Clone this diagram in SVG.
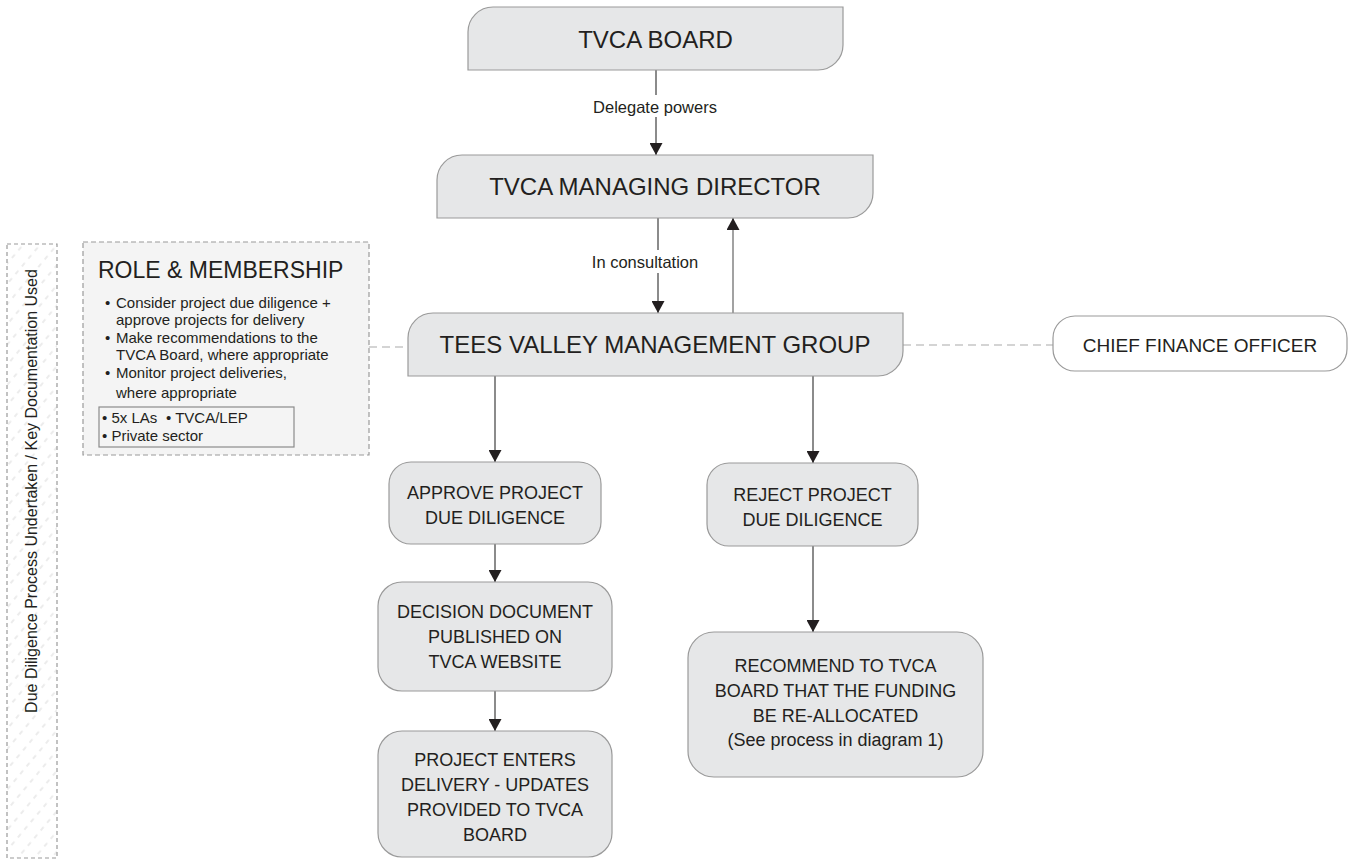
<svg xmlns="http://www.w3.org/2000/svg" width="1348" height="859" viewBox="0 0 1348 859">
<defs>
  <marker id="arr" viewBox="0 0 12 13" refX="12" refY="6.5" markerWidth="12" markerHeight="13" markerUnits="userSpaceOnUse" orient="auto">
    <path d="M0,0 L12,6.5 L0,13 z" fill="#231f20"/>
  </marker>
  <pattern id="hatch" width="10" height="13" patternUnits="userSpaceOnUse" patternTransform="rotate(-50)">
    <line x1="0" y1="6" x2="4.5" y2="6" stroke="#cfcfcf" stroke-width="0.8"/>
  </pattern>
  <style>
    .node { fill: #e6e7e8; stroke: #9a9a9a; stroke-width: 1.2; }
    .white { fill: #ffffff; stroke: #9a9a9a; stroke-width: 1.2; }
    .big { font-family: "Liberation Sans", Arial, sans-serif; font-size: 24px; fill: #231f20; text-anchor: middle; }
    .mid { font-family: "Liberation Sans", Arial, sans-serif; font-size: 18px; fill: #231f20; text-anchor: middle; }
    .lbl { font-family: "Liberation Sans", Arial, sans-serif; font-size: 16.5px; fill: #231f20; text-anchor: middle; }
    .bul { font-family: "Liberation Sans", Arial, sans-serif; font-size: 15px; fill: #231f20; }
    .side { font-family: "Liberation Sans", Arial, sans-serif; font-size: 16px; fill: #231f20; text-anchor: middle; }
    .line { stroke: #4d4d4d; stroke-width: 1.3; fill: none; }
    .dash { stroke: #aaaaaa; stroke-width: 1.2; stroke-dasharray: 8 5; fill: none; }
  </style>
</defs>

<!-- left side strip -->
<g id="side-strip">
  <rect x="7" y="244" width="50" height="614" fill="url(#hatch)" stroke="#9a9a9a" stroke-width="1.2" stroke-dasharray="4 3"/>
  <text class="side" transform="translate(37,491) rotate(-90)">Due Diligence Process Undertaken / Key Documentation Used</text>
</g>

<!-- connectors -->
<g id="connectors">
  <line class="line" x1="656" y1="70" x2="656" y2="95"/>
  <line class="line" x1="656" y1="117" x2="656" y2="155" marker-end="url(#arr)"/>
  <text class="lbl" x="655" y="113">Delegate powers</text>

  <line class="line" x1="658" y1="218" x2="658" y2="250"/>
  <line class="line" x1="658" y1="273" x2="658" y2="313" marker-end="url(#arr)"/>
  <text class="lbl" x="645" y="268">In consultation</text>

  <line class="line" x1="733" y1="313" x2="733" y2="218" marker-end="url(#arr)" style="stroke:#707070"/>

  <line class="line" x1="495" y1="376" x2="495" y2="462" marker-end="url(#arr)"/>
  <line class="line" x1="495" y1="544" x2="495" y2="582" marker-end="url(#arr)"/>
  <line class="line" x1="495" y1="691" x2="495" y2="731" marker-end="url(#arr)"/>
  <line class="line" x1="813" y1="376" x2="813" y2="463" marker-end="url(#arr)"/>
  <line class="line" x1="813" y1="546" x2="813" y2="632" marker-end="url(#arr)"/>

  <line class="dash" x1="369" y1="347" x2="408" y2="347"/>
  <line class="dash" x1="903" y1="345" x2="1053" y2="345"/>
</g>

<!-- role box -->
<g id="role-membership">
  <rect x="83" y="242" width="286" height="213" fill="#f4f4f4" stroke="#9a9a9a" stroke-width="1.2" stroke-dasharray="5 3"/>
  <text class="bul" x="98" y="278" style="font-size:23px">ROLE &amp; MEMBERSHIP</text>
  <text class="bul" x="105" y="308">•</text><text class="bul" x="116" y="308">Consider project due diligence +</text>
  <text class="bul" x="116" y="325">approve projects for delivery</text>
  <text class="bul" x="105" y="343">•</text><text class="bul" x="116" y="343">Make recommendations to the</text>
  <text class="bul" x="116" y="360">TVCA Board, where appropriate</text>
  <text class="bul" x="105" y="378">•</text><text class="bul" x="116" y="378">Monitor project deliveries,</text>
  <text class="bul" x="116" y="398">where appropriate</text>
  <rect x="99" y="407" width="195" height="40" fill="none" stroke="#8a8a8a" stroke-width="1.2"/>
  <text class="bul" x="102" y="423">• 5x LAs</text>
  <text class="bul" x="166" y="423">• TVCA/LEP</text>
  <text class="bul" x="102" y="441">• Private sector</text>
</g>

<g id="tvca-board">
  <path class="node" d="M493,7 H843 V45 A25,25 0 0 1 818,70 H468 V32 A25,25 0 0 1 493,7 Z"/>
  <text class="big" x="655.5" y="48">TVCA BOARD</text>
</g>

<g id="managing-director">
  <path class="node" d="M462,155 H873 V193 A25,25 0 0 1 848,218 H437 V180 A25,25 0 0 1 462,155 Z"/>
  <text class="big" x="655" y="195">TVCA MANAGING DIRECTOR</text>
</g>

<g id="management-group">
  <path class="node" d="M433,313 H903 V351 A25,25 0 0 1 878,376 H408 V338 A25,25 0 0 1 433,313 Z"/>
  <text class="big" x="655" y="353">TEES VALLEY MANAGEMENT GROUP</text>
</g>

<g id="cfo">
  <rect class="white" x="1053" y="316" width="294" height="55" rx="22"/>
  <text class="mid" x="1200" y="352" style="font-size:19px">CHIEF FINANCE OFFICER</text>
</g>

<g id="approve">
  <rect class="node" x="389" y="462" width="212" height="82" rx="22"/>
  <text class="mid" x="495" y="499">APPROVE PROJECT</text>
  <text class="mid" x="495" y="524">DUE DILIGENCE</text>
</g>

<g id="decision">
  <rect class="node" x="378" y="582" width="234" height="109" rx="24"/>
  <text class="mid" x="495" y="618">DECISION DOCUMENT</text>
  <text class="mid" x="495" y="643">PUBLISHED ON</text>
  <text class="mid" x="495" y="668">TVCA WEBSITE</text>
</g>

<g id="delivery">
  <rect class="node" x="378" y="731" width="234" height="126" rx="24"/>
  <text class="mid" x="495" y="766">PROJECT ENTERS</text>
  <text class="mid" x="495" y="791">DELIVERY - UPDATES</text>
  <text class="mid" x="495" y="816">PROVIDED TO TVCA</text>
  <text class="mid" x="495" y="841">BOARD</text>
</g>

<g id="reject">
  <rect class="node" x="707" y="463" width="211" height="83" rx="22"/>
  <text class="mid" x="812.5" y="501">REJECT PROJECT</text>
  <text class="mid" x="812.5" y="526">DUE DILIGENCE</text>
</g>

<g id="recommend">
  <rect class="node" x="688" y="632" width="295" height="145" rx="26"/>
  <text class="mid" x="835.5" y="672">RECOMMEND TO TVCA</text>
  <text class="mid" x="835.5" y="697">BOARD THAT THE FUNDING</text>
  <text class="mid" x="835.5" y="722">BE RE-ALLOCATED</text>
  <text class="mid" x="835.5" y="746">(See process in diagram 1)</text>
</g>
</svg>
